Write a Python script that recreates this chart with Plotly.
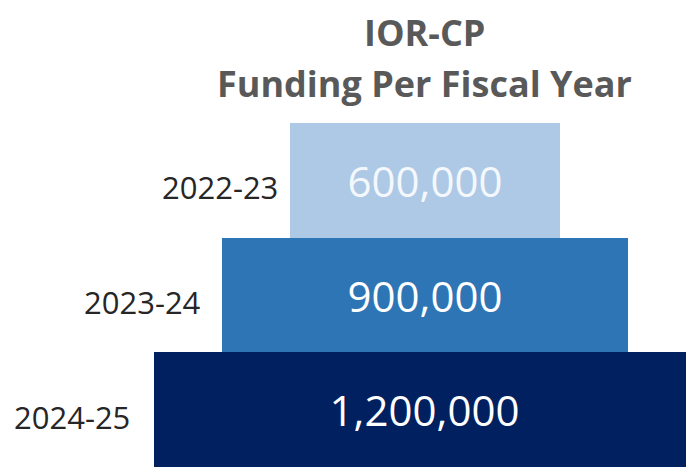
import plotly.graph_objects as go

# Funding per fiscal year
years = ["2022-23", "2023-24", "2024-25"]
funding = [600000, 900000, 1200000]
bar_colors = ["#ADC9E5", "#2E75B6", "#002060"]
value_text_colors = ["#F4F8FC", "#FFFFFF", "#FFFFFF"]
label_shift = [-10, -19, -22]

FONT = "Open Sans"

bases = [-v / 2 for v in funding]

fig = go.Figure(
    go.Bar(
        y=years,
        x=funding,
        base=bases,
        orientation="h",
        marker=dict(color=bar_colors, line=dict(width=0)),
        text=[f"{v:,}" for v in funding],
        textposition="inside",
        insidetextanchor="middle",
        textangle=0,
        constraintext="none",
        textfont=dict(family=FONT, size=42, color=value_text_colors),
        hoverinfo="skip",
    )
)

annotations = []
for yr, b, dx in zip(years, bases, label_shift):
    annotations.append(
        dict(
            x=b, y=yr, xref="x", yref="y",
            text=yr, showarrow=False,
            xanchor="right", yanchor="middle",
            xshift=dx, yshift=-7,
            font=dict(family=FONT, size=31, color="#262626"),
        )
    )

# two-line heading centred over the pyramid
annotations.append(dict(
    x=0, y=1.262, xref="x", yref="paper", text="<b>IOR-CP</b>",
    showarrow=False, xanchor="center", yanchor="middle",
    font=dict(family=FONT, size=36, color="#595959"),
))
annotations.append(dict(
    x=0, y=1.116, xref="x", yref="paper", text="<b>Funding Per Fiscal Year</b>",
    showarrow=False, xanchor="center", yanchor="middle",
    font=dict(family=FONT, size=36, color="#595959"),
))

fig.update_layout(
    width=686,
    height=467,
    margin=dict(l=0, r=0, t=123, b=0),
    paper_bgcolor="white",
    plot_bgcolor="white",
    bargap=0,
    showlegend=False,
    annotations=annotations,
    xaxis=dict(range=[-942000, 579000], visible=False, fixedrange=True),
    yaxis=dict(
        categoryorder="array",
        categoryarray=years,
        autorange="reversed",
        visible=False,
        fixedrange=True,
    ),
)

fig.write_html("out.html", config={"displayModeBar": False})
